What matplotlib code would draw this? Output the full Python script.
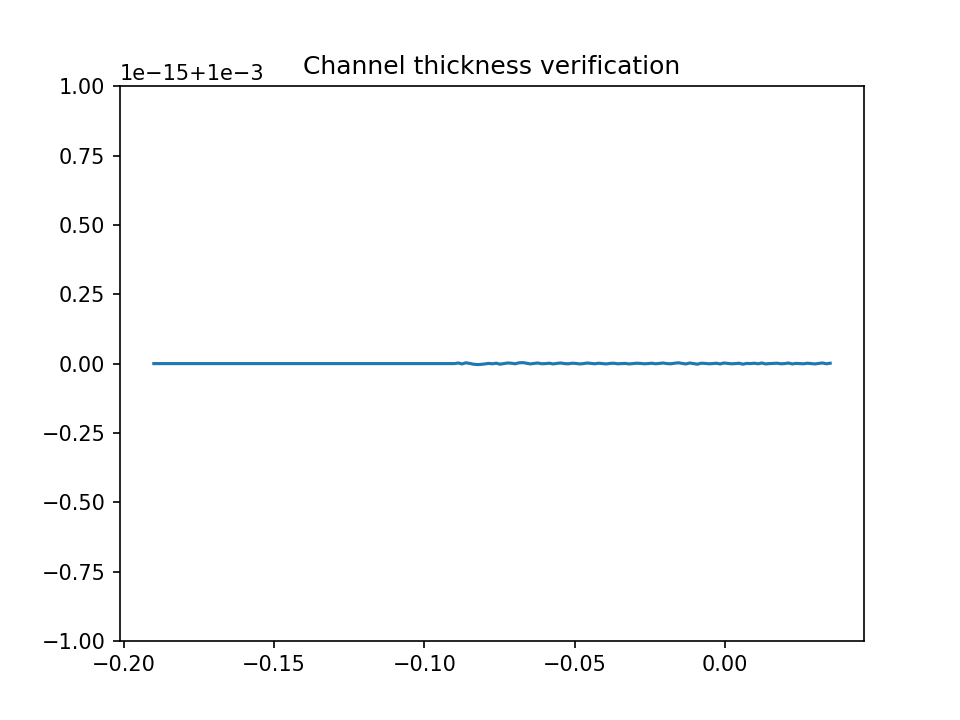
import matplotlib
matplotlib.use("Agg")
import matplotlib.pyplot as plt
import numpy as np

# thickness level and round-off wiggle (units of 1e-18) along the channel
BASE = 1e-3
x_flat = [-0.19, -0.09]
wiggle = [0, 3, -2, 4, 1, -3, -5, -4, -2, 1, -1, 2, -3, 0, 3, 2, -1, 4, 5, 2,
          -2, 1, 3, -1, 0, 2, -2, 1, 3, 0, -1, 2, 1, -2, 0, 3, 1, -1, 2, 0,
          -2, 1, 2, -1, 0, 1, -2, 0, 2, 1, -1, 0, 2, -1, 1, 3, 0, -1, 2, 4,
          1, -2, 3, 0, -3, 2, 1, -1, 0, 2, -2, 3, 1, -1, 0, 2, -3, 1, 0, 2,
          -1, 3, -2, 0, 1, 2, -1, 0, 3, -2, 1, 0, -1, 2, 0, -2, 1, 3, -1, 2]
x_noisy = np.linspace(-0.09, 0.035, len(wiggle))

x = np.concatenate([x_flat, x_noisy])
y = np.concatenate([[BASE, BASE], BASE + np.array(wiggle) * 0.7e-18])

fig, ax = plt.subplots(figsize=(6.4, 4.8), dpi=150)
ax.plot(x, y)
ax.set_ylim(BASE - 1e-15, BASE + 1e-15)
ax.set_title("Channel thickness verification")
fig.savefig("out.png")
